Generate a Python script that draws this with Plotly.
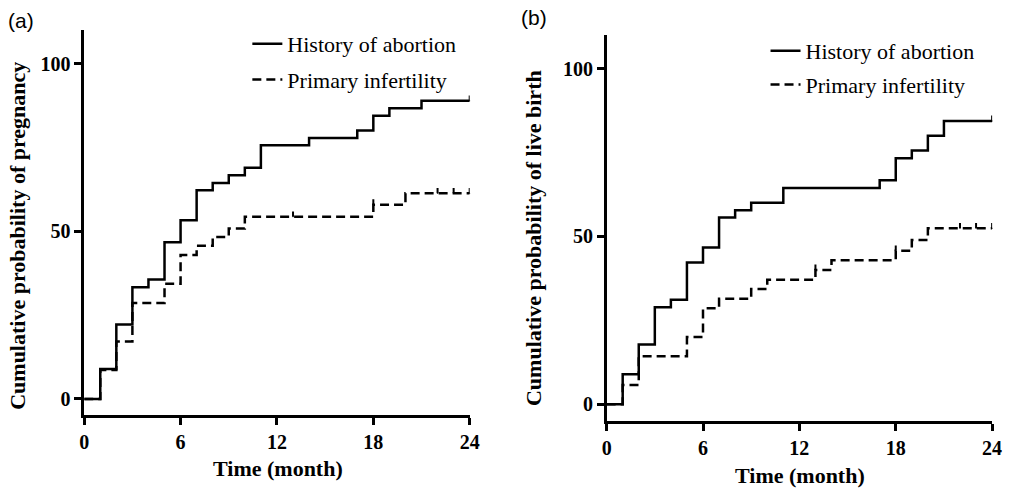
import plotly.graph_objects as go

# ---------------- data ----------------
# Panel (a): cumulative probability of pregnancy
a_abortion_t = [0, 1, 2, 3, 4, 5, 6, 7, 8, 9, 10, 11, 14, 17, 18, 19, 21, 24]
a_abortion_p = [0, 8.9, 22.2, 33.3, 35.6, 46.7, 53.3, 62.2, 64.4, 66.7, 68.9, 75.6, 77.8, 80.0, 84.4, 86.7, 88.9, 88.9]
a_abortion_cens_t = [24]
a_abortion_cens_p = [88.9]

a_primary_t = [0, 1, 2, 3, 5, 6, 7, 8, 9, 10, 18, 20, 24]
a_primary_p = [0, 8.6, 17.1, 28.6, 34.3, 42.9, 45.7, 48.3, 50.8, 54.3, 57.9, 61.3, 61.3]
a_primary_cens_t = [13, 18, 22, 23, 24]
a_primary_cens_p = [54.3, 57.9, 61.3, 61.3, 61.3]

# Panel (b): cumulative probability of live birth
b_abortion_t = [0, 1, 2, 3, 4, 5, 6, 7, 8, 9, 11, 17, 18, 19, 20, 21, 24]
b_abortion_p = [0, 8.9, 17.8, 28.9, 31.1, 42.2, 46.7, 55.6, 57.8, 60.0, 64.4, 66.7, 73.3, 75.6, 80.0, 84.4, 84.4]
b_abortion_cens_t = [24]
b_abortion_cens_p = [84.4]

b_primary_t = [0, 1, 2, 5, 6, 7, 9, 10, 13, 14, 18, 19, 20, 24]
b_primary_p = [0, 5.7, 14.3, 20.0, 28.6, 31.4, 34.3, 37.1, 40.0, 42.9, 45.7, 48.9, 52.4, 52.4]
b_primary_cens_t = [13, 18, 22, 23, 24]
b_primary_cens_p = [40.0, 45.7, 52.4, 52.4, 52.4]

series_names = ["History of abortion", "Primary infertility"]
x_ticks = [0, 6, 12, 18, 24]
y_ticks = [0, 50, 100]
y_titles = ["Cumulative probability of pregnancy", "Cumulative probability of live birth"]
x_title = "Time (month)"
panel_labels = ["(a)", "(b)"]

# ---------------- figure ----------------
W, H = 1010, 488
SERIF = "Liberation Serif, Times New Roman, serif"
SANS = "Liberation Sans, Arial, sans-serif"
LW = 2.5
DASH = "9px,5px"

fig = go.Figure()

panels = [
    dict(xa="x", ya="y", legend="legend",
         curves=[(a_abortion_t, a_abortion_p, a_abortion_cens_t, a_abortion_cens_p, "solid"),
                 (a_primary_t, a_primary_p, a_primary_cens_t, a_primary_cens_p, DASH)]),
    dict(xa="x2", ya="y2", legend="legend2",
         curves=[(b_abortion_t, b_abortion_p, b_abortion_cens_t, b_abortion_cens_p, "solid"),
                 (b_primary_t, b_primary_p, b_primary_cens_t, b_primary_cens_p, DASH)]),
]

for pi, pan in enumerate(panels):
    for ci, (t, p, ct, cp, dash) in enumerate(pan["curves"]):
        fig.add_trace(go.Scatter(
            x=t, y=p, mode="lines", line=dict(color="black", width=LW, dash=dash, shape="hv"),
            name=series_names[ci], xaxis=pan["xa"], yaxis=pan["ya"], legend=pan["legend"],
            legendgroup=f"g{pi}{ci}", hoverinfo="skip", cliponaxis=False))
        fig.add_trace(go.Scatter(
            x=ct, y=cp, mode="markers", marker=dict(size=1, color="black"),
            error_y=dict(type="data", array=[1.6] * len(ct), arrayminus=[0] * len(ct),
                         symmetric=False, width=0, thickness=2, color="black"),
            showlegend=False, xaxis=pan["xa"], yaxis=pan["ya"], hoverinfo="skip", cliponaxis=False))

axis_common = dict(
    showline=True, linecolor="black", linewidth=2.5, ticks="outside", ticklen=7, tickwidth=2.5,
    tickcolor="black", showgrid=False, zeroline=False,
    tickfont=dict(family=SERIF, size=20, color="black", weight="bold"),
)

fig.update_layout(
    width=W, height=H, margin=dict(l=0, r=0, t=0, b=0),
    paper_bgcolor="white", plot_bgcolor="white",
    xaxis=dict(domain=[80.4 / W, 471.7 / W], range=[0, 24], tickvals=x_ticks, anchor="y", **axis_common),
    yaxis=dict(domain=[1 - 415 / H, 1 - 30 / H], range=[-4.8, 110], tickvals=y_ticks, anchor="x", **axis_common),
    xaxis2=dict(domain=[610.7 / W, 1002 / W], range=[0, 24], tickvals=x_ticks, anchor="y2", **axis_common),
    yaxis2=dict(domain=[1 - 421 / H, 1 - 35 / H], range=[-5.0, 110], tickvals=y_ticks, anchor="x2", **axis_common),
    legend=dict(x=246 / W, y=1 - 23 / H, xanchor="left", yanchor="top", bgcolor="rgba(0,0,0,0)",
                font=dict(family=SERIF, size=22, color="black"), tracegroupgap=4),
    legend2=dict(x=772 / W, y=1 - 30 / H, xanchor="left", yanchor="top", bgcolor="rgba(0,0,0,0)",
                 font=dict(family=SERIF, size=22, color="black"), tracegroupgap=2),
    showlegend=True,
)

title_font = dict(family=SERIF, size=22, color="black", weight="bold")
annotations = [
    dict(text=y_titles[0], x=12 / W, y=1 - 236 / H, textangle=-90, font=title_font),
    dict(text=y_titles[1], x=537 / W, y=1 - 238 / H, textangle=-90, font=title_font),
    dict(text=x_title, x=277 / W, y=1 - 468 / H, font=title_font),
    dict(text=x_title, x=807 / W, y=1 - 475 / H, font=title_font),
    dict(text=panel_labels[0], x=16 / W, y=1 - 20 / H, font=dict(family=SANS, size=21, color="black")),
    dict(text=panel_labels[1], x=537 / W, y=1 - 18 / H, font=dict(family=SANS, size=21, color="black")),
]
for a in annotations:
    a.update(xref="paper", yref="paper", showarrow=False, xanchor="center", yanchor="middle")
fig.update_layout(annotations=annotations)

fig.write_html(
    "out.html",
    config={"displayModeBar": False},
    post_script="document.body.style.margin='0';document.body.style.overflow='hidden';",
)
